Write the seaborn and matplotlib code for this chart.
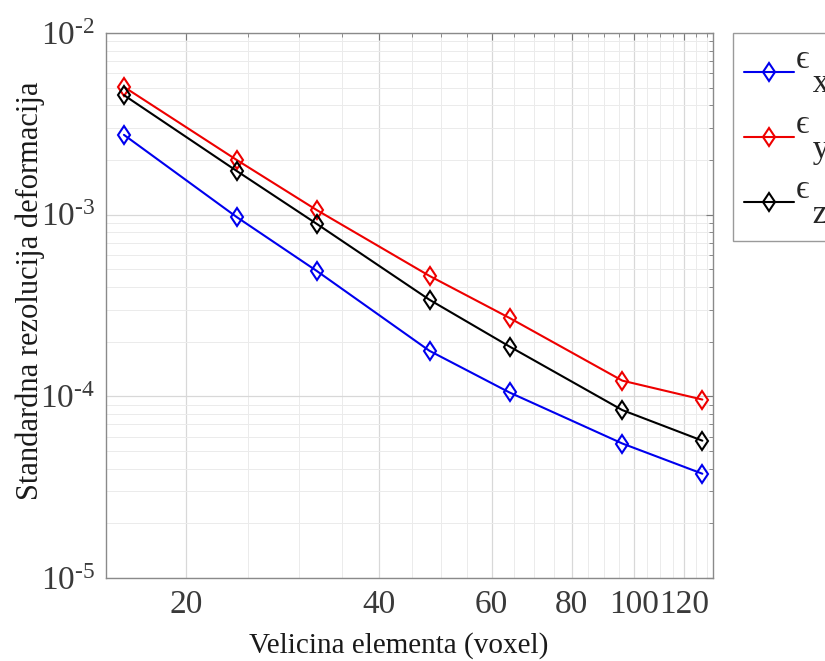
import numpy as np
import pandas as pd
import matplotlib
matplotlib.use('Agg')
import matplotlib.pyplot as plt
import matplotlib.ticker as mticker
import seaborn as sns

## data
velicina = [16, 24, 32, 48, 64, 96, 128]
eps_x = [2.75e-3, 0.97e-3, 4.9e-4, 1.78e-4, 1.05e-4, 5.5e-5, 3.75e-5]
eps_y = [5.05e-3, 2.0e-3, 1.06e-3, 4.6e-4, 2.7e-4, 1.22e-4, 9.6e-5]
eps_z = [4.55e-3, 1.74e-3, 0.89e-3, 3.4e-4, 1.88e-4, 8.4e-5, 5.7e-5]

# epsilon with a dropped subscript, like the MATLAB legend
labels = ['\u03f5\n  x', '\u03f5\n  y', '\u03f5\n  z']
colors = ['#0000ee', '#ee0000', '#000000']
x_ticks = [20, 40, 60, 80, 100, 120]
y_ticks = [1e-5, 1e-4, 1e-3, 1e-2]
y_ticklabels = ['$\\mathdefault{10^{\u2010' + str(k) + '}}$' for k in [5, 4, 3, 2]]

sns.set_style('white')
plt.rcParams['font.family'] = ['Liberation Serif', 'DejaVu Serif']
plt.rcParams['mathtext.fontset'] = 'stix'

fig = plt.figure(figsize=(8.25, 6.61), dpi=100)
ax = fig.add_axes([106/825, 1 - 578/661, (713 - 106)/825, (578 - 33)/661])

for vals, lab, c in zip([eps_x, eps_y, eps_z], labels, colors):
    sns.lineplot(x=velicina, y=vals, ax=ax, color=c, label=lab,
                 marker='d', markersize=9.5, markerfacecolor='none',
                 markeredgecolor=c, markeredgewidth=1.5, linewidth=1.5)

ax.set_xscale('log')
ax.set_yscale('log')
ax.set_xlim(15, 133)
ax.set_ylim(1e-5, 1e-2)

ax.xaxis.set_major_locator(mticker.FixedLocator(x_ticks))
ax.xaxis.set_major_formatter(mticker.FixedFormatter([str(t) for t in x_ticks]))
ax.xaxis.set_minor_locator(mticker.FixedLocator(list(range(15, 135, 5))))
ax.xaxis.set_minor_formatter(mticker.NullFormatter())
ax.yaxis.set_major_locator(mticker.FixedLocator(y_ticks))
ax.yaxis.set_major_formatter(mticker.FixedFormatter(y_ticklabels))
ax.yaxis.set_minor_locator(mticker.LogLocator(base=10, subs=np.arange(2, 10)))
ax.yaxis.set_minor_formatter(mticker.NullFormatter())

ax.grid(True, which='major', color='#d8d8d8', linewidth=0.9)
ax.grid(True, which='minor', color='#ebebeb', linewidth=0.7)
ax.set_axisbelow(True)

ax.tick_params(which='both', direction='in', top=True, right=True,
               color='#7a7a7a', labelcolor='#3a3a3a', labelsize=24, pad=8)
ax.tick_params(which='major', length=5)
ax.tick_params(which='minor', length=3)
for s in ax.spines.values():
    s.set_color('#8a8a8a')
    s.set_linewidth(1.0)

ax.set_xlabel('Velicina elementa (voxel)', fontsize=21, color='#1a1a1a')
ax.set_ylabel('Standardna rezolucija deformacija', fontsize=22, color='#1a1a1a')
ax.xaxis.set_label_coords(0.483, -0.1)
ax.yaxis.set_label_coords(-0.1, 0.527)

leg = ax.legend(loc='upper left', bbox_to_anchor=(733/825, 1 - 33/661),
                bbox_transform=fig.transFigure, borderaxespad=0,
                fontsize=24, frameon=True, fancybox=False, framealpha=1,
                edgecolor='#9a9a9a', handlelength=1.5, handletextpad=0.05,
                labelspacing=0.3, borderpad=0.34)
leg.get_frame().set_linewidth(1.0)
for t in leg.get_texts():
    t.set_linespacing(0.75)

fig.savefig('out.png', dpi=100)
